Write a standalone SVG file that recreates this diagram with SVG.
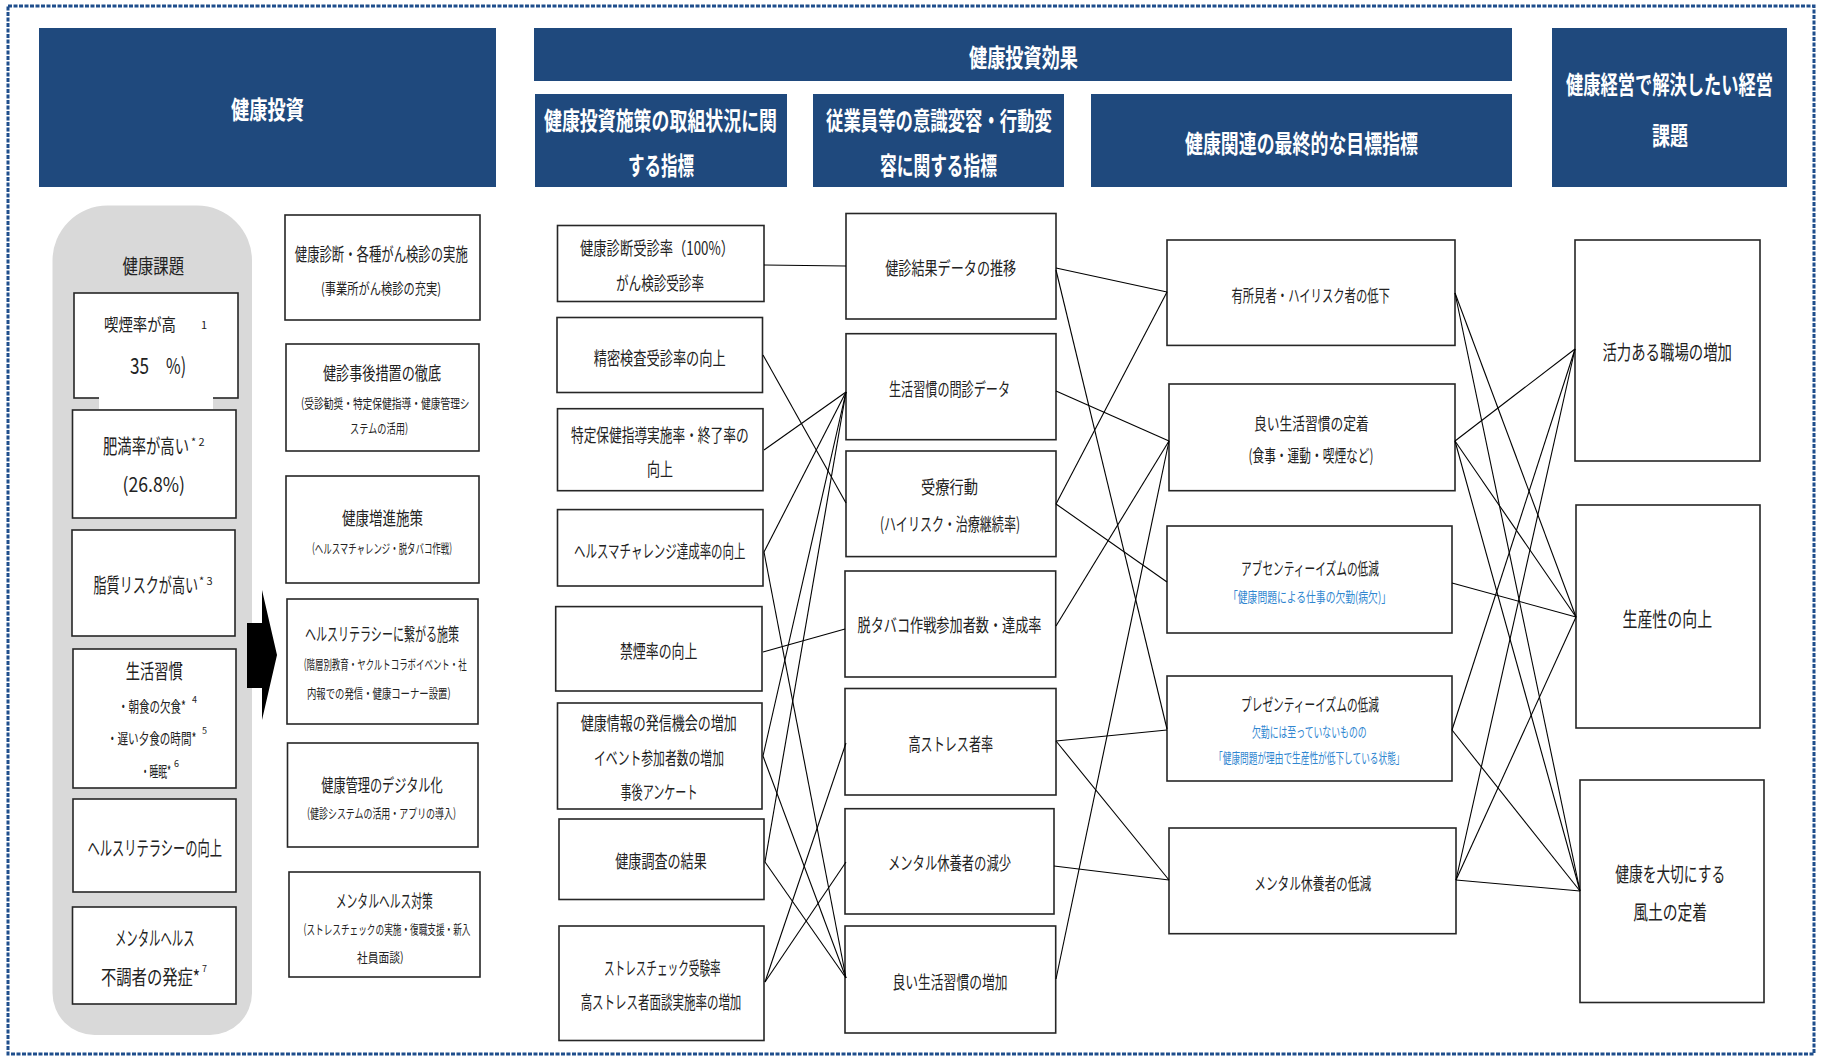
<svg xmlns="http://www.w3.org/2000/svg" width="1822" height="1057" viewBox="0 0 1822 1057">
<style>
text{font-family:"Noto Sans CJK JP","Noto Sans",sans-serif;fill:#222;}
.hdr{fill:#1f497d;}
.ht{fill:#fff;font-weight:bold;font-size:25px;text-anchor:middle;}
.box{fill:#fff;stroke:#262626;stroke-width:1.6;}
.t{font-size:20px;text-anchor:middle;}
.m{font-size:18px;text-anchor:middle;}
.q{font-size:17px;text-anchor:middle;}
.s{font-size:15px;text-anchor:middle;}
.xs{font-size:13px;text-anchor:middle;}
.sup{font-size:11px;}
.blue{fill:#2f86d0;font-size:14px;text-anchor:middle;}
.conn{stroke:#000;stroke-width:1.1;fill:none;}
</style>
<rect x="8" y="6" width="1806" height="1048" fill="none" stroke="#1f4e8c" stroke-width="3" stroke-dasharray="4 1.5"/>

<g id="header-kenko-toshi"><rect class="hdr" x="39" y="28" width="457" height="159"/><text class="ht" x="267.5" y="118.8" textLength="73" lengthAdjust="spacingAndGlyphs">健康投資</text></g>
<g id="header-kouka"><rect class="hdr" x="534" y="28" width="978" height="53"/><text class="ht" x="1023.5" y="67.3" textLength="109" lengthAdjust="spacingAndGlyphs">健康投資効果</text></g>
<g id="header-torikumi"><rect class="hdr" x="535" y="94" width="252" height="93"/><text class="ht" x="660.5" y="129.5" textLength="233" lengthAdjust="spacingAndGlyphs">健康投資施策の取組状況に関</text><text class="ht" x="661" y="174.5" textLength="66" lengthAdjust="spacingAndGlyphs">する指標</text></g>
<g id="header-ishiki"><rect class="hdr" x="813" y="94" width="251" height="93"/><text class="ht" x="939" y="129.5" textLength="226" lengthAdjust="spacingAndGlyphs">従業員等の意識変容・行動変</text><text class="ht" x="938.5" y="174.5" textLength="117" lengthAdjust="spacingAndGlyphs">容に関する指標</text></g>
<g id="header-saishu"><rect class="hdr" x="1091" y="94" width="421" height="93"/><text class="ht" x="1301.5" y="152.5" textLength="233" lengthAdjust="spacingAndGlyphs">健康関連の最終的な目標指標</text></g>
<g id="header-keiei"><rect class="hdr" x="1552" y="28" width="235" height="159"/><text class="ht" x="1669.5" y="93.5" textLength="207" lengthAdjust="spacingAndGlyphs">健康経営で解決したい経営</text><text class="ht" x="1670" y="144.5" textLength="36" lengthAdjust="spacingAndGlyphs">課題</text></g>

<g id="panel-kenko-kadai">
<path d="M52.5,260.6 A55,55 0 0 1 107.5,205.6 L197,205.6 A55,55 0 0 1 252,260.6 L252,993 A42,42 0 0 1 210,1035 L94.5,1035 A42,42 0 0 1 52.5,993 Z" fill="#d9d9d9"/>
<text class="t" x="153.3" y="273.6" textLength="61.5" lengthAdjust="spacingAndGlyphs">健康課題</text>
</g>
<g id="k1"><rect class="box" x="74" y="293" width="164" height="105"/><rect x="99" y="396" width="114" height="13" fill="#fff"/>
<text x="104" y="331" style="font-size:17px" textLength="72" lengthAdjust="spacingAndGlyphs">喫煙率が高</text><text class="sup" x="201" y="329">1</text>
<text x="130" y="374" style="font-size:22px" textLength="19" lengthAdjust="spacingAndGlyphs">35</text><text x="166" y="374" style="font-size:22px" textLength="20" lengthAdjust="spacingAndGlyphs">%)</text></g>
<g id="k2"><rect class="box" x="72.5" y="410" width="163.5" height="108"/><text class="t" x="146" y="454.1" textLength="86" lengthAdjust="spacingAndGlyphs">肥満率が高い</text><text class="sup" x="191" y="446">* 2</text><text class="t" x="153.7" y="491.6" textLength="62.5" lengthAdjust="spacingAndGlyphs">(26.8%)</text></g>
<g id="k3"><rect class="box" x="72" y="530" width="163" height="106"/><text class="t" x="145.8" y="592.6" textLength="104.6" lengthAdjust="spacingAndGlyphs">脂質リスクが高い</text><text class="sup" x="199" y="585">* 3</text></g>
<g id="k4"><rect class="box" x="73" y="649" width="163" height="139"/><text class="t" x="154.3" y="679.1" textLength="57" lengthAdjust="spacingAndGlyphs">生活習慣</text>
<text class="s" x="152" y="712.3" textLength="68" lengthAdjust="spacingAndGlyphs">・朝食の欠食*</text><text class="sup" x="192" y="703" style="font-size:9px">4</text>
<text class="s" x="151.7" y="743.7" textLength="89.4" lengthAdjust="spacingAndGlyphs">・遅い夕食の時間*</text><text class="sup" x="202" y="734" style="font-size:9px">5</text>
<text class="s" x="156" y="776.7" textLength="30.4" lengthAdjust="spacingAndGlyphs">・睡眠*</text><text class="sup" x="174" y="767" style="font-size:9px">6</text></g>
<g id="k5"><rect class="box" x="73" y="799" width="163" height="93"/><text class="t" x="154.7" y="855.6" textLength="134.6" lengthAdjust="spacingAndGlyphs">ヘルスリテラシーの向上</text></g>
<g id="k6"><rect class="box" x="72.5" y="907" width="163.5" height="97"/><text class="t" x="154.8" y="945.6" textLength="79.6" lengthAdjust="spacingAndGlyphs">メンタルヘルス</text><text class="t" x="150.5" y="984.6" textLength="99" lengthAdjust="spacingAndGlyphs">不調者の発症*</text><text class="sup" x="202" y="972" style="font-size:9px">7</text></g>

<g id="arrow"><polygon points="247,623 262,623 262,590 277,655 262,720 262,688 247,688" fill="#000"/></g>

<g id="s1"><rect class="box" x="285" y="215" width="195" height="105"/><text class="m" x="381.3" y="260.8" textLength="173" lengthAdjust="spacingAndGlyphs">健康診断・各種がん検診の実施</text><text class="s" x="381" y="294.3" textLength="120" lengthAdjust="spacingAndGlyphs">(事業所がん検診の充実)</text></g>
<g id="s2"><rect class="box" x="286" y="344" width="193" height="107"/><text class="m" x="382" y="380.3" textLength="118" lengthAdjust="spacingAndGlyphs">健診事後措置の徹底</text><text class="xs" x="385.3" y="407.5" textLength="168.6" lengthAdjust="spacingAndGlyphs">(受診勧奨・特定保健指導・健康管理シ</text><text class="xs" x="379" y="433.4" textLength="58" lengthAdjust="spacingAndGlyphs">ステムの活用)</text></g>
<g id="s3"><rect class="box" x="286" y="476" width="193" height="107"/><text class="m" x="382.5" y="525.3" textLength="81" lengthAdjust="spacingAndGlyphs">健康増進施策</text><text class="xs" x="382" y="553" textLength="140" lengthAdjust="spacingAndGlyphs">(ヘルスマチャレンジ・脱タバコ作戦)</text></g>
<g id="s4"><rect class="box" x="287" y="599" width="191" height="125"/><text class="m" x="382" y="641.3" textLength="154" lengthAdjust="spacingAndGlyphs">ヘルスリテラシーに繋がる施策</text><text class="xs" x="385.2" y="669" textLength="163" lengthAdjust="spacingAndGlyphs">(階層別教育・ヤクルトコラボイベント・社</text><text class="xs" x="378.8" y="698" textLength="143.6" lengthAdjust="spacingAndGlyphs">内報での発信・健康コーナー設置)</text></g>
<g id="s5"><rect class="box" x="287.5" y="743" width="190.5" height="104"/><text class="m" x="382" y="792.3" textLength="121.4" lengthAdjust="spacingAndGlyphs">健康管理のデジタル化</text><text class="xs" x="381.5" y="818" textLength="149" lengthAdjust="spacingAndGlyphs">(健診システムの活用・アプリの導入)</text></g>
<g id="s6"><rect class="box" x="289" y="872" width="191" height="105"/><text class="m" x="384.3" y="908.3" textLength="97" lengthAdjust="spacingAndGlyphs">メンタルヘルス対策</text><text class="xs" x="387" y="934" textLength="167" lengthAdjust="spacingAndGlyphs">(ストレスチェックの実施・復職支援・新入</text><text class="xs" x="380.3" y="962" textLength="46.6" lengthAdjust="spacingAndGlyphs">社員面談)</text></g>

<g id="a"><rect class="box" x="557.5" y="225.5" width="206.5" height="76"/><text class="m" x="657" y="254.8" textLength="154" lengthAdjust="spacingAndGlyphs">健康診断受診率（100%）</text><text class="m" x="660" y="289.8" textLength="88" lengthAdjust="spacingAndGlyphs">がん検診受診率</text></g>
<g id="b"><rect class="box" x="557" y="317.5" width="205.5" height="75"/><text class="m" x="659.7" y="364.8" textLength="132" lengthAdjust="spacingAndGlyphs">精密検査受診率の向上</text></g>
<g id="c"><rect class="box" x="557.5" y="408.7" width="205.5" height="82"/><text class="m" x="659.8" y="442.4" textLength="177.6" lengthAdjust="spacingAndGlyphs">特定保健指導実施率・終了率の</text><text class="m" x="660" y="475.8" textLength="26" lengthAdjust="spacingAndGlyphs">向上</text></g>
<g id="d"><rect class="box" x="557.5" y="509.6" width="205.5" height="76.4"/><text class="m" x="659.8" y="557.8" textLength="171.4" lengthAdjust="spacingAndGlyphs">ヘルスマチャレンジ達成率の向上</text></g>
<g id="e"><rect class="box" x="555.7" y="606.6" width="206.3" height="84.4"/><text class="m" x="658.7" y="658.3" textLength="77.5" lengthAdjust="spacingAndGlyphs">禁煙率の向上</text></g>
<g id="f"><rect class="box" x="557.5" y="703" width="204.5" height="106"/><text class="m" x="658.7" y="730.4" textLength="156" lengthAdjust="spacingAndGlyphs">健康情報の発信機会の増加</text><text class="m" x="659" y="764.8" textLength="130" lengthAdjust="spacingAndGlyphs">イベント参加者数の増加</text><text class="m" x="659" y="798.8" textLength="77" lengthAdjust="spacingAndGlyphs">事後アンケート</text></g>
<g id="g"><rect class="box" x="559" y="819" width="205" height="80.5"/><text class="m" x="661" y="868.4" textLength="91.4" lengthAdjust="spacingAndGlyphs">健康調査の結果</text></g>
<g id="h"><rect class="box" x="559" y="926" width="205" height="114.5"/><text class="m" x="662.3" y="975.4" textLength="116.8" lengthAdjust="spacingAndGlyphs">ストレスチェック受験率</text><text class="m" x="661" y="1008.8" textLength="160.7" lengthAdjust="spacingAndGlyphs">高ストレス者面談実施率の増加</text></g>

<g id="p1"><rect class="box" x="846" y="213.5" width="210" height="105.5"/><text class="m" x="950.7" y="274.8" textLength="131" lengthAdjust="spacingAndGlyphs">健診結果データの推移</text></g>
<g id="p2"><rect class="box" x="846" y="333.7" width="210" height="106"/><text class="m" x="949.5" y="395.7" textLength="121" lengthAdjust="spacingAndGlyphs">生活習慣の問診データ</text></g>
<g id="p3"><rect class="box" x="846" y="451" width="210" height="105.6"/><text class="m" x="949.5" y="494.2" textLength="57" lengthAdjust="spacingAndGlyphs">受療行動</text><text class="m" x="950" y="530.7" textLength="140" lengthAdjust="spacingAndGlyphs">(ハイリスク・治療継続率)</text></g>
<g id="p4"><rect class="box" x="845" y="571" width="210.7" height="106"/><text class="m" x="949.5" y="632.2" textLength="184" lengthAdjust="spacingAndGlyphs">脱タバコ作戦参加者数・達成率</text></g>
<g id="p5"><rect class="box" x="845" y="688.5" width="211" height="106.5"/><text class="m" x="950.8" y="750.7" textLength="84.6" lengthAdjust="spacingAndGlyphs">高ストレス者率</text></g>
<g id="p6"><rect class="box" x="845" y="808.7" width="209" height="105.3"/><text class="m" x="949.5" y="870.2" textLength="123" lengthAdjust="spacingAndGlyphs">メンタル休養者の減少</text></g>
<g id="p7"><rect class="box" x="845" y="926" width="210.7" height="107"/><text class="m" x="950" y="988.7" textLength="115" lengthAdjust="spacingAndGlyphs">良い生活習慣の増加</text></g>

<g id="q1"><rect class="box" x="1167" y="240" width="288" height="105.4"/><text class="q" x="1310.7" y="301.5" textLength="158.5" lengthAdjust="spacingAndGlyphs">有所見者・ハイリスク者の低下</text></g>
<g id="q2"><rect class="box" x="1169" y="384" width="286" height="106.7"/><text class="q" x="1311.4" y="429.5" textLength="114.7" lengthAdjust="spacingAndGlyphs">良い生活習慣の定着</text><text class="q" x="1311" y="461.5" textLength="125" lengthAdjust="spacingAndGlyphs">(食事・運動・喫煙など)</text></g>
<g id="q3"><rect class="box" x="1167" y="526" width="285" height="107"/><text class="q" x="1310" y="574.5" textLength="138" lengthAdjust="spacingAndGlyphs">アブセンティーイズムの低減</text><text class="blue" x="1309.5" y="602.3" textLength="163" lengthAdjust="spacingAndGlyphs">「健康問題による仕事の欠勤(病欠)」</text></g>
<g id="q4"><rect class="box" x="1167" y="676" width="285" height="105"/><text class="q" x="1310" y="711" textLength="138" lengthAdjust="spacingAndGlyphs">プレゼンティーイズムの低減</text><text class="blue" x="1309.3" y="737.3" textLength="114.7" lengthAdjust="spacingAndGlyphs">欠勤には至っていないものの</text><text class="blue" x="1309.3" y="763.3" textLength="190.5" lengthAdjust="spacingAndGlyphs">「健康問題が理由で生産性が低下している状態」</text></g>
<g id="q5"><rect class="box" x="1169" y="828" width="287" height="105.7"/><text class="q" x="1312.7" y="889.5" textLength="117" lengthAdjust="spacingAndGlyphs">メンタル休養者の低減</text></g>

<g id="r1"><rect class="box" x="1575" y="240" width="185" height="221"/><text class="t" x="1667.2" y="359.6" textLength="129.5" lengthAdjust="spacingAndGlyphs">活力ある職場の増加</text></g>
<g id="r2"><rect class="box" x="1576" y="505" width="184" height="223"/><text class="t" x="1667.3" y="626.6" textLength="89.6" lengthAdjust="spacingAndGlyphs">生産性の向上</text></g>
<g id="r3"><rect class="box" x="1580" y="780" width="184" height="222.5"/><text class="t" x="1670.2" y="882.1" textLength="110" lengthAdjust="spacingAndGlyphs">健康を大切にする</text><text class="t" x="1670.2" y="919.6" textLength="73.9" lengthAdjust="spacingAndGlyphs">風土の定着</text></g>

<g id="connectors" class="conn">
<path d="M764,265 L846,266"/>
<path d="M763,355 L846,503"/>
<path d="M764,450 L846,392"/>
<path d="M764,552 L846,392"/>
<path d="M764,552 L846,978"/>
<path d="M763,652 L845,629"/>
<path d="M763,756 L846,392"/>
<path d="M763,756 L846,978"/>
<path d="M765,862 L846,392"/>
<path d="M765,862 L846,978"/>
<path d="M765,982 L846,743"/>
<path d="M765,982 L846,862"/>
<path d="M1056,268 L1167,292"/>
<path d="M1056,270 L1167,729"/>
<path d="M1056,391 L1169,441"/>
<path d="M1056,504 L1167,292"/>
<path d="M1056,504 L1167,582"/>
<path d="M1056,626 L1169,441"/>
<path d="M1056,741 L1167,730"/>
<path d="M1056,741 L1169,880"/>
<path d="M1054,866 L1169,880"/>
<path d="M1056,979 L1169,441"/>
<path d="M1455,293 L1576,617"/>
<path d="M1455,293 L1580,891"/>
<path d="M1455,441 L1575,349"/>
<path d="M1455,441 L1576,617"/>
<path d="M1455,441 L1580,891"/>
<path d="M1452,583 L1576,617"/>
<path d="M1452,730 L1575,349"/>
<path d="M1452,730 L1580,891"/>
<path d="M1456,880 L1575,349"/>
<path d="M1456,880 L1576,617"/>
<path d="M1456,880 L1580,891"/>
</g>
</svg>
